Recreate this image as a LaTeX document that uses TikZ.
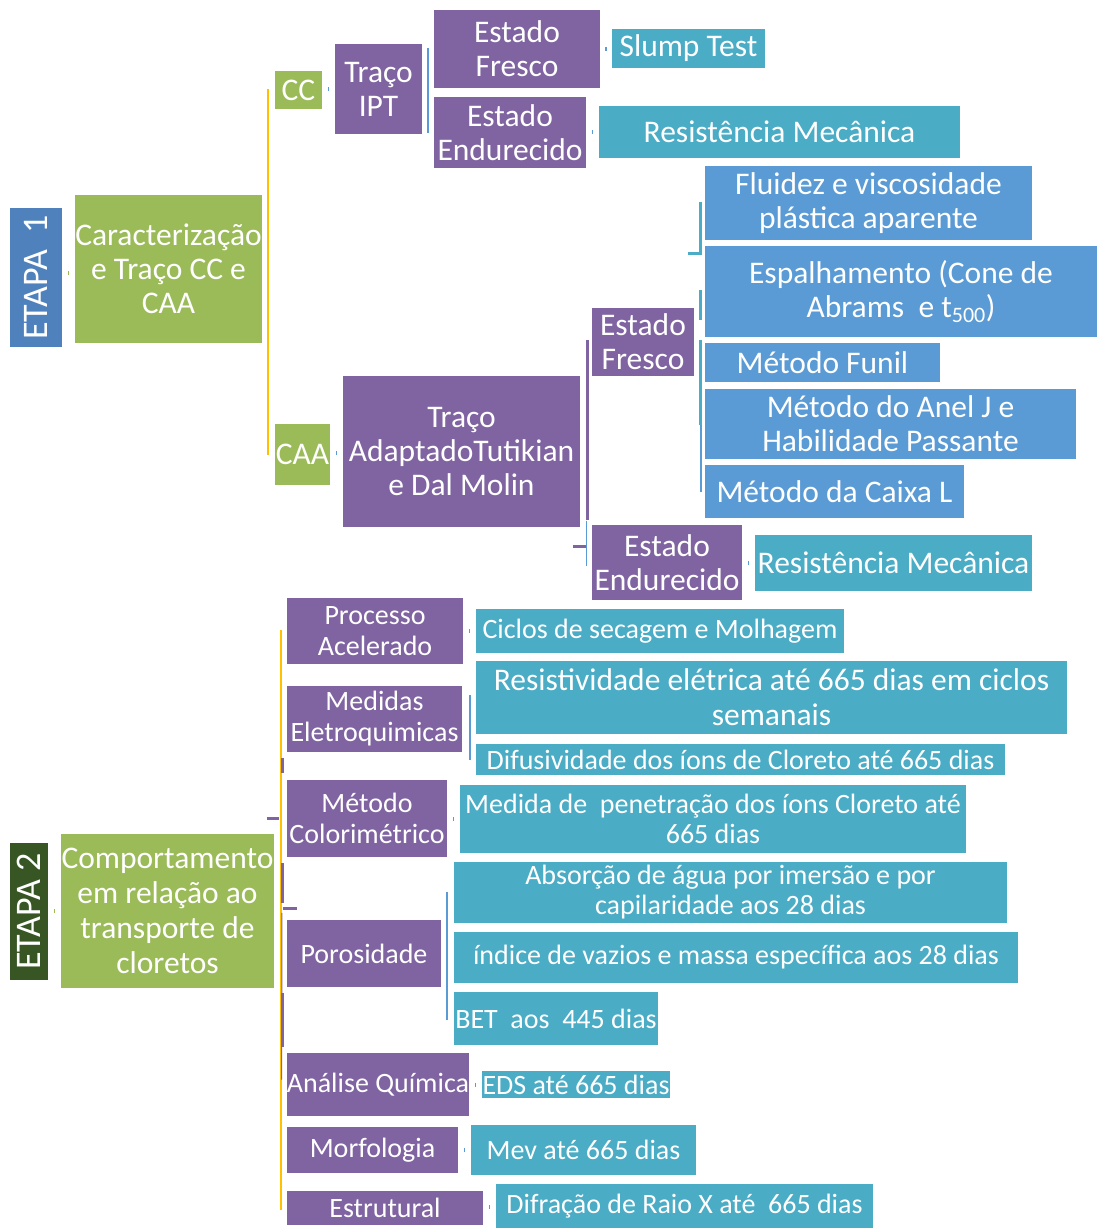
\documentclass[tikz,border=0pt]{standalone}
\usepackage{fontspec}
\setmainfont{Carlito}
\usepackage{xcolor}
\usepackage{tikz}
\usetikzlibrary{calc}
\definecolor{EtapaBlue}{RGB}{79, 129, 189}
\definecolor{EtapaDark}{RGB}{55, 86, 35}
\definecolor{BoxGreen}{RGB}{155, 187, 89}
\definecolor{BoxPurple}{RGB}{128, 100, 162}
\definecolor{BoxTeal}{RGB}{75, 172, 198}
\definecolor{BoxBlue}{RGB}{91, 155, 213}
\definecolor{LineGold}{RGB}{255, 192, 0}

\begin{document}
\begin{tikzpicture}[x=1pt, y=-1pt,
    box/.style={rectangle, inner sep=0pt, align=center, text=white, font=\fontsize{31.5}{34}\selectfont},
    grnbox/.style={box, fill=BoxGreen},
    prpbox/.style={box, fill=BoxPurple},
    teabox/.style={box, fill=BoxTeal},
    blubox/.style={box, fill=BoxBlue},
    etapabox/.style={box, rotate=90, font=\fontsize{36}{40}\selectfont},
    small/.style={font=\fontsize{28}{31}\selectfont},
    smaller/.style={font=\fontsize{28}{30}\selectfont},
    goldline/.style={draw=LineGold, line width=2.4pt},
    prpline/.style={draw=BoxPurple, line width=3pt},
    thinprp/.style={draw=BoxPurple, line width=1pt},
    bluline/.style={draw=BoxBlue, line width=2pt},
    tealine/.style={draw=BoxTeal, line width=3pt},
    tick/.style={draw=BoxBlue, line width=1.2pt},
    grntick/.style={draw=BoxGreen, line width=1.2pt}
  ]
    \useasboundingbox (0,0) rectangle (1097,1228);

    % ETAPA 1
    \node[etapabox, fill=EtapaBlue, minimum width=139, minimum height=52] (e1) at (36,277.5) {ETAPA~ 1};
    \node[grnbox, minimum width=187, minimum height=148] (car) at (168.5,269) {Caracterização\\e Traço CC e\\CAA};
    \node[grnbox, minimum width=47, minimum height=38] (cc) at (298.5,90) {CC};
    \node[prpbox, minimum width=87, minimum height=90] (ipt) at (378.5,89) {Traço\\IPT};
    \node[prpbox, minimum width=166, minimum height=78] (ef1) at (517,49) {Estado\\Fresco};
    \node[prpbox, minimum width=152, minimum height=71] (ee1) at (510,132.5) {Estado\\Endurecido};
    \node[teabox, minimum width=153, minimum height=39] (slu) at (688.5,48.5) {Slump Test};
    \node[teabox, minimum width=361, minimum height=52] (res1) at (779.5,132) {Resistência Mecânica};
    \node[grnbox, minimum width=55, minimum height=61] (caa) at (302.5,454.5) {CAA};
    \node[prpbox, minimum width=237, minimum height=151] (tut) at (461.5,451.5) {Traço\\AdaptadoTutikian\\e Dal Molin};
    \node[prpbox, minimum width=102, minimum height=68] (ef2) at (643,342) {Estado\\Fresco};
    \node[prpbox, minimum width=150, minimum height=75] (ee2) at (667,562.5) {Estado\\Endurecido};
    \node[teabox, minimum width=277, minimum height=56] (res2) at (893.5,563) {Resistência Mecânica};
    \node[blubox, minimum width=327, minimum height=74] (flu) at (868.5,203) {Fluidez e viscosidade\\plástica aparente};
    \node[blubox, minimum width=392, minimum height=91] (esp) at (901,291.5) {Espalhamento (Cone de\\Abrams~ e t\textsubscript{500})};
    \node[blubox, minimum width=235, minimum height=39] (fun) at (822.5,362.5) {Método Funil};
    \node[blubox, minimum width=371, minimum height=70] (anel) at (890.5,424) {Método do Anel J e\\Habilidade Passante};
    \node[blubox, minimum width=259, minimum height=53] (cai) at (834.5,491.5) {Método da Caixa L};

    % ETAPA 2
    \node[etapabox, fill=EtapaDark, minimum width=137, minimum height=38] (e2) at (29,911.5) {ETAPA 2};
    \node[grnbox, minimum width=213, minimum height=154, font=\fontsize{31.5}{35}\selectfont] (com) at (167.5,911) {Comportamento\\em relação ao\\transporte de\\cloretos};
    \node[prpbox, small, minimum width=176, minimum height=66] (proc) at (375,631) {Processo\\Acelerado};
    \node[prpbox, small, minimum width=175, minimum height=66] (med) at (374.5,719) {Medidas\\Eletroquimicas};
    \node[prpbox, small, minimum width=160, minimum height=77] (col) at (367,818.5) {Método\\Colorimétrico};
    \node[prpbox, small, minimum width=154, minimum height=67] (por) at (364,953.5) {Porosidade};
    \node[prpbox, small, minimum width=182, minimum height=63] (ana) at (378,1084.5) {Análise Química};
    \node[prpbox, small, minimum width=171, minimum height=46] (mor) at (372.5,1150) {Morfologia};
    \node[prpbox, small, minimum width=196, minimum height=34] (est) at (385,1208) {Estrutural};
    \node[teabox, small, minimum width=368, minimum height=44] (cic) at (660,631) {Ciclos de secagem e Molhagem};
    \node[teabox, font=\fontsize{31.5}{35}\selectfont, minimum width=591, minimum height=73] (rsv) at (771.5,697.5) {Resistividade elétrica até 665 dias em ciclos\\semanais};
    \node[teabox, smaller, minimum width=529, minimum height=31] (dif) at (740.5,759.5) {Difusividade dos íons de Cloreto até 665 dias};
    \node[teabox, smaller, minimum width=506, minimum height=68] (pen) at (713,819) {Medida de~ penetração dos íons Cloreto até\\665 dias};
    \node[teabox, smaller, minimum width=553, minimum height=61] (abs) at (730.5,892.5) {Absorção de água por imersão e por\\capilaridade aos 28 dias};
    \node[teabox, smaller, minimum width=564, minimum height=51] (ind) at (736,957.5) {índice de vazios e massa específica aos 28 dias};
    \node[teabox, small, minimum width=204, minimum height=53] (bet) at (556,1018.5) {BET~ aos~ 445 dias};
    \node[teabox, small, minimum width=188, minimum height=27] (eds) at (576,1084.5) {EDS até 665 dias};
    \node[teabox, small, minimum width=225, minimum height=50] (mev) at (583.5,1150) {Mev até 665 dias};
    \node[teabox, small, minimum width=377, minimum height=44] (drx) at (684.5,1206) {Difração de Raio X até~ 665 dias};

    % brackets of ETAPA 1
    \draw[goldline] ($(cc.west)+(-7,-1)$) -- ($(caa.west)+(-7,0)$);
    \draw[bluline] ($(ipt.north east)+(6,4)$) -- ($(ipt.south east)+(6,-1)$);
    \draw[prpline] ($(tut.east |- ef2.center)+(7,-2)$) -- ($(tut.east |- ee2.north)+(7,-5)$);
    \draw[prpline] ($(ee2.west)+(-19,-16)$) -- ($(ee2.west)+(-5,-16)$);
    \draw[bluline, line width=1pt] ($(ee2.west)+(-5,-42)$) -- ($(ee2.west)+(-5,3)$);
    \draw[tealine] ($(flu.west)+(-4,-1)$) -- ($(flu.west)+(-4,50)$) -- ($(flu.west)+(-17,50)$);
    \draw[tealine] ($(esp.west)+(-4,-1.5)$) -- ($(esp.west)+(-4,28.5)$);
    \draw[tealine] ($(fun.west)+(-4,-22.5)$) -- ($(anel.west)+(-4,1)$);
    \draw[bluline] ($(anel.west)+(-4,1)$) -- ($(cai.west)+(-4,0.5)$);

    % brackets of ETAPA 2
    \draw[goldline] ($(proc.west)+(-6,-1)$) -- ($(est.west)+(-6,2)$);
    \draw[prpline] ($(med.south west)+(-4,6)$) -- ++(0,15);
    \draw[prpline] ($(col.west)+(-20,0)$) -- ($(col.west)+(-8,0)$);
    \draw[prpline] ($(col.south west)+(-4,6)$) -- ++(0,40);
    \draw[prpline] ($(por.north west)+(-4,-11)$) -- ++(14,0);
    \draw[prpline] ($(por.south west)+(-4,6)$) -- ++(0,54);
    \draw[thinprp] ($(por.north west)+(-5,-7)$) -- ($(ana.west)+(-5,-5)$);
    \draw[bluline] ($(med.north east)+(8,9)$) -- ($(med.south east)+(8,8)$);
    \draw[bluline] ($(por.east)+(6,-61.5)$) -- ($(por.east)+(6,66.5)$);

    % small marks between boxes
    \foreach \a/\b in {cc/ipt, ef1/slu, ee1/res1, caa/tut, ee2/res2, proc/cic, col/pen, ana/eds, mor/mev, est/drx}
      \draw[tick] ($(\a.east)!.5!(\b.west)$) ++(0,-2) -- ++(0,4);
    \draw[grntick] ($(e1.south)!.5!(car.west)$) ++(0,-2) -- ++(0,4);
    \draw[grntick] ($(e2.south)!.5!(com.west)$) ++(0,-2) -- ++(0,4);
  \end{tikzpicture}
\end{document}
